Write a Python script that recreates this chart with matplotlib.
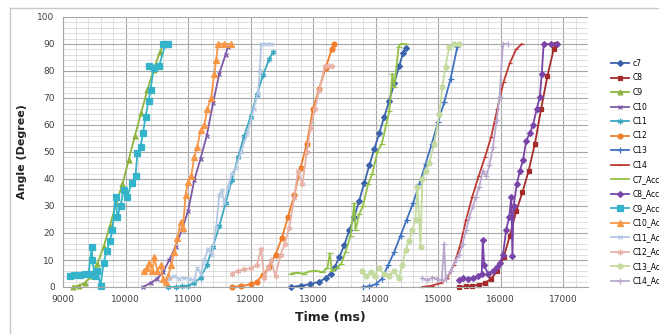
import matplotlib
matplotlib.use("Agg")
import matplotlib.pyplot as plt
from matplotlib.lines import Line2D

# ---- data (time in ms, angle in degrees) ----
c7_t = [12650, 12800, 12950, 13100, 13200, 13280, 13350, 13420, 13500, 13580, 13660, 13740,
        13820, 13900, 13980, 14060, 14140, 14220, 14300, 14380, 14440, 14480]
c7_y = [0, 0.5, 1, 2, 3.2, 5, 7.5, 11, 15.5, 21, 26, 32, 38.5, 45, 51, 57, 63, 69, 75.5, 82, 86.5, 88.4]

c8_t = [15340, 15450, 15550, 15650, 15750, 15850, 15950, 16050, 16150, 16250, 16350, 16450,
        16550, 16650, 16750, 16850, 16880]
c8_y = [0, 0.3, 0.5, 0.8, 1.5, 3, 6, 11, 19, 28, 35, 43, 53, 66, 78, 88, 90]

c9_t = [9160, 9250, 9350, 9450, 9550, 9650, 9750, 9850, 9950, 10050, 10150, 10250, 10350,
        10450, 10550, 10610]
c9_y = [0, 0.5, 1.5, 4, 8.5, 15, 22.5, 31, 38, 47, 56, 64.5, 73, 80.5, 87, 90]

c10_t = [10280, 10400, 10500, 10600, 10700, 10800, 10900, 11000, 11100, 11200, 11300, 11400,
         11500, 11600, 11640]
c10_y = [0, 1.5, 3, 5.5, 10, 15, 21, 28, 39.5, 47.5, 56, 68, 79, 86, 89]

c11_t = [10680, 10800, 10900, 11000, 11100, 11200, 11300, 11400, 11500, 11600, 11700, 11800,
         11900, 12000, 12100, 12200, 12300, 12360]
c11_y = [0, 0, 0.2, 0.5, 1.5, 3.5, 8, 15, 22.5, 31, 39.5, 48, 56, 63, 71, 78.5, 84.5, 87]

c12_t = [11700, 11850, 12000, 12100, 12200, 12300, 12400, 12500, 12600, 12700, 12800, 12900,
         13000, 13100, 13200, 13300, 13330]
c12_y = [0, 0.3, 1, 2, 4.5, 7.5, 12, 18, 26, 34, 44, 53, 66, 73.5, 81, 88, 90]

c13_t = [13800, 13900, 14000, 14100, 14200, 14300, 14400, 14500, 14600, 14700, 14800, 14900,
         15000, 15100, 15200, 15310]
c13_y = [0, 0.3, 1, 3, 8, 13, 19, 25, 31, 38, 45.5, 53, 61, 68.5, 77, 89]

c14_t = [14750, 14900, 15050, 15150, 15250, 15350, 15450, 15550, 15650, 15750, 15850, 15950,
         16050, 16150, 16250, 16340]
c14_y = [0, 0.5, 1.5, 3.5, 8, 15, 25, 33.5, 41, 48, 55.5, 66, 76, 83, 88, 90]

c7a_t = [12650, 12750, 12850, 12950, 13050, 13150, 13230, 13270, 13300, 13380, 13450, 13520,
         13600, 13660, 13680, 13740, 13800, 13880, 13950, 14030, 14100, 14170, 14220, 14270,
         14300, 14370, 14400, 14480]
c7a_y = [5, 5.3, 5, 5.8, 6, 5.5, 7, 12.5, 6, 7, 8.5, 13, 19, 31, 21, 27, 30, 38, 42, 50, 53, 60,
         65, 79, 74, 89, 90, 90]

c8a_t = [15340, 15400, 15480, 15560, 15640, 15700, 15716, 15740, 15800, 15880, 15940, 15990,
         16040, 16090, 16140, 16173, 16190, 16210, 16260, 16310, 16360, 16410, 16470, 16520,
         16580, 16630, 16660, 16690, 16800, 16900]
c8a_y = [2.6, 3.5, 2.8, 3.2, 4, 5, 17.4, 8, 5, 6, 7.5, 8.8, 12, 21, 26, 33.5, 11.5, 30, 38, 43,
         47, 54, 57, 60, 66, 70.5, 79, 90, 90, 90]

c9a_t = [9110, 9180, 9270, 9350, 9410, 9460, 9470, 9510, 9550, 9600, 9650, 9700, 9750, 9790,
         9840, 9870, 9920, 9970, 10030, 10100, 10160, 10190, 10240, 10280, 10320, 10370, 10400,
         10450, 10380, 10540, 10640, 10600, 10680]
c9a_y = [4, 4.5, 4.3, 4.8, 5, 15, 10, 4, 6, 0.5, 9, 13.5, 17, 21, 33.5, 26, 30, 36, 33.5, 38.5,
         41, 49.5, 52, 57, 63, 69, 73, 81, 82, 82, 90, 90, 90]

c10a_t = [10290, 10340, 10380, 10430, 10460, 10510, 10560, 10600, 10640, 10680, 10730, 10780,
          10830, 10880, 10920, 10960, 11000, 11050, 11100, 11150, 11200, 11260, 11310, 11370,
          11420, 11450, 11480, 11580, 11690]
c10a_y = [6, 7, 9, 6, 11, 6, 8, 3, 2, 4, 8, 13, 18, 24, 22, 34, 39, 41, 48, 52, 58, 60, 66, 70,
          79, 84, 90, 90, 90]

c11a_t = [10700, 10780, 10860, 10940, 11020, 11100, 11150, 11200, 11260, 11320, 11380, 11450,
          11500, 11540, 11580, 11640, 11700, 11760, 11850, 11950, 12050, 12120, 12150, 12170,
          12250, 12330]
c11a_y = [3, 4, 3, 3.5, 3, 2.5, 7, 5, 10, 14, 12, 22, 34, 36, 31, 37, 42, 44, 50, 57, 66, 72, 80,
          90, 90, 90]

c12a_t = [11700, 11800, 11900, 12000, 12100, 12170, 12220, 12280, 12330, 12400, 12480, 12550,
          12620, 12700, 12760, 12830, 12900, 12960, 13030, 13100, 13190, 13250, 13300]
c12a_y = [5, 6, 6.5, 7, 8, 14, 3.5, 7, 10, 4, 12, 16, 22, 33, 43, 38, 50, 59, 66, 73, 82, 82, 82]

c13a_t = [13780, 13850, 13920, 13990, 14050, 14130, 14210, 14290, 14370, 14430, 14480, 14540,
          14590, 14640, 14670, 14700, 14720, 14750, 14800, 14860, 14940, 15020, 15070, 15120,
          15180, 15260, 15340]
c13a_y = [6, 4, 5.5, 4, 7, 5, 4, 6, 3.5, 8, 13.7, 17, 21, 25, 37, 25, 15, 40, 43, 46, 53, 64, 74,
          81.6, 89, 90, 90]

c14a_t = [14750, 14830, 14910, 14990, 15060, 15097, 15124, 15200, 15286, 15340, 15393, 15450,
          15500, 15560, 15608, 15660, 15716, 15770, 15823, 15880, 15940, 15985, 16039, 16120]
c14a_y = [3.2, 2.5, 3.5, 3, 2.5, 16, 3, 6, 10, 12, 16, 21, 26, 30, 33.5, 37, 43, 41, 45, 52, 62,
          70.5, 90, 90]

series = [
    ("c7", c7_t, c7_y, "#3B64AD", "D", 3),
    ("C8", c8_t, c8_y, "#A52A2A", "s", 3.5),
    ("C9", c9_t, c9_y, "#8EB43F", "^", 3.5),
    ("C10", c10_t, c10_y, "#7C5AA6", "x", 3.5),
    ("C11", c11_t, c11_y, "#3AA8C0", (6, 2, 0), 4),
    ("C12", c12_t, c12_y, "#EE7E2D", "o", 3.5),
    ("C13", c13_t, c13_y, "#3F72C0", "+", 4),
    ("C14", c14_t, c14_y, "#BE3A34", "_", 3),
    ("C7_Accel", c7a_t, c7a_y, "#93C047", "_", 5),
    ("C8_Accel", c8a_t, c8a_y, "#7A45A8", "D", 3),
    ("C9_Accel", c9a_t, c9a_y, "#34B4CB", "s", 4.5),
    ("C10_Accel", c10a_t, c10a_y, "#F79646", "^", 4),
    ("C11_Accel", c11a_t, c11a_y, "#B4C8E4", "x", 3.5),
    ("C12_Accel", c12a_t, c12a_y, "#E8B1A8", (6, 2, 0), 4),
    ("C13_Accel", c13a_t, c13a_y, "#C4DA9E", "o", 3.5),
    ("C14_Accel", c14a_t, c14a_y, "#B9A8CE", "+", 4),
]

x_ticks = [9000, 10000, 11000, 12000, 13000, 14000, 15000, 16000, 17000]
y_ticks = [0, 10, 20, 30, 40, 50, 60, 70, 80, 90, 100]

fig = plt.figure(figsize=(6.59, 3.34), dpi=100)
ax = fig.add_axes([63 / 659, 1 - 287 / 334, (588 - 63) / 659, (287 - 17) / 334])

handles = []
for name, t, y, col, mk, ms in series:
    ax.plot(t, y, color=col, marker=mk, markersize=ms, linewidth=1.3,
            markeredgewidth=0.9, clip_on=False)
    if name == "C7_Accel":
        handles.append(Line2D([], [], color=col, linewidth=1.3, label=name))
    else:
        handles.append(Line2D([], [], color=col, marker=mk, markersize=ms, linewidth=1.3,
                              markeredgewidth=0.9, label=name))

ax.set_xlim(9000, 17400)
ax.set_ylim(0, 100)
ax.set_xticks(x_ticks)
ax.set_yticks(y_ticks)
ax.set_xticks(range(9000, 17401, 200), minor=True)
ax.set_yticks(range(0, 101, 2), minor=True)
ax.grid(which="major", color="#A6A6A6", linewidth=0.8)
ax.grid(which="minor", color="#D9D9D9", linewidth=0.6)
ax.set_axisbelow(True)
ax.tick_params(which="both", length=0, labelsize=6.5, labelcolor="#404040", pad=6)
ax.tick_params(which="minor", length=0)
for side in ["top", "right"]:
    ax.spines[side].set_visible(False)
ax.spines["left"].set_color("#A6A6A6")
ax.spines["bottom"].set_color("#A6A6A6")

fig.text(330 / 659, 1 - 318 / 334, "Time (ms)", ha="center", va="center",
         fontsize=9, fontweight="bold", color="#222222")
fig.text(22 / 659, 1 - 152 / 334, "Angle (Degree)", ha="center", va="center",
         rotation=90, fontsize=8, fontweight="bold", color="#222222")

fig.legend(handles=handles, loc="upper left", bbox_to_anchor=(611 / 659, 1 - 59 / 334),
           frameon=False, fontsize=5.5, handlelength=2.4, handletextpad=0.4,
           labelspacing=0.72, borderpad=0, borderaxespad=0, numpoints=1)

# light chart frame (left and top edges)
fig.add_artist(Line2D([10 / 659, 10 / 659], [0, 1 - 8 / 334], color="#C8C8C8",
                      linewidth=1, transform=fig.transFigure))
fig.add_artist(Line2D([10 / 659, 1], [1 - 8 / 334, 1 - 8 / 334], color="#C8C8C8",
                      linewidth=1, transform=fig.transFigure))

fig.savefig("out.png", dpi=100)
